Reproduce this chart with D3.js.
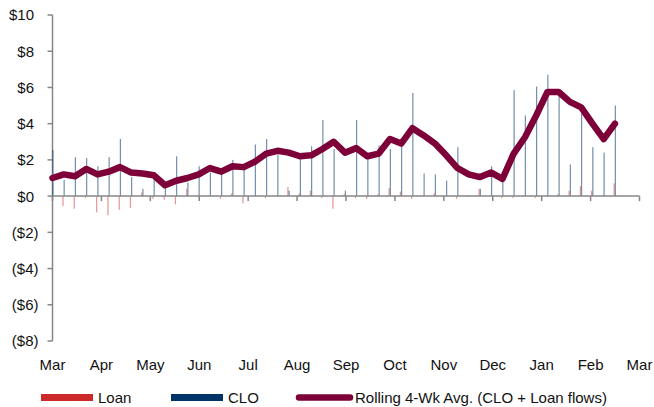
<!DOCTYPE html>
<meta charset="utf-8">

<script src="https://d3js.org/d3.v7.min.js"></script>

<style>
  body { margin: 0; background: #fff; }
  text { font-family: Arial, "Liberation Sans", sans-serif; font-size: 15px; fill: #111; }
</style>

<div id="flows_chart"></div>

<script>

var width = 654,
  height = 407,
  axisColor = "#868686",
  loanColor = "#cc2a2a",
  cloColor = "#003366",
  avgColor = "#7d0038";

var monthLabels = ["Mar", "Apr", "May", "Jun", "Jul", "Aug", "Sep", "Oct", "Nov", "Dec", "Jan", "Feb", "Mar"];
var yTicks = [10, 8, 6, 4, 2, 0, -2, -4, -6, -8];

// weekly flows, $bn
var cloFlows = [2.55, 0.9, 2.15, 2.1, 1.65, 2.15, 3.15, 1.05, 0.4, 0.95,
  0.55, 2.2, 0.75, 1.65, 1.3, 1.25, 2.0, 1.45, 2.85, 3.15,
  2.3, 0.3, 2.15, 2.75, 4.2, 2.6, 0.3, 4.2, 2.1, 2.8,
  2.6, 2.8, 5.7, 1.25, 1.2, 0.85, 2.7, 0.0, 0.4, 1.65,
  0.9, 5.85, 4.45, 6.05, 6.7, 5.7, 1.75, 4.55, 2.7, 2.4, 5.0];

var loanFlows = [0.0, -0.55, -0.7, -0.1, -0.9, -1.05, -0.75, -0.65, 0.2, -0.15,
  -0.2, -0.45, 0.4, 0.0, 0.0, -0.15, 0.15, -0.4, 0.0, -0.1,
  0.0, 0.5, 0.15, 0.3, -0.1, -0.7, 0.1, -0.1, -0.15, 0.1,
  0.45, 0.25, -0.15, 0.0, 0.15, 0.0, -0.15, 0.05, 0.4, 0.0,
  -0.1, -0.1, 0.0, -0.1, 0.05, 0.1, 0.3, 0.55, 0.3, 0.05, 0.7];

var rollingAvg = [1.0, 1.2, 1.1, 1.5, 1.2, 1.35, 1.6, 1.3, 1.25, 1.15,
  0.6, 0.85, 1.0, 1.2, 1.55, 1.35, 1.65, 1.6, 1.9, 2.35,
  2.5, 2.4, 2.2, 2.25, 2.6, 3.0, 2.4, 2.65, 2.2, 2.35,
  3.15, 2.9, 3.75, 3.35, 2.9, 2.25, 1.55, 1.2, 1.05, 1.3,
  0.95, 2.35, 3.25, 4.45, 5.75, 5.75, 5.2, 4.9, 4.0, 3.15, 4.0];

var svg = d3.select("#flows_chart")
  .append("svg")
    .attr("width", width)
    .attr("height", height);

// x in months since start, one week = 7/30.44 of a month
var x = d3.scaleLinear().domain([0, 12]).range([52.5, 639.5]);
var y = d3.scaleLinear().domain([-8, 10]).range([341, 15]);

function wx(i) { return x(i * 7 / 30.44); }

// y axis
svg.append("line")
  .attr("x1", x(0)).attr("x2", x(0))
  .attr("y1", y(10)).attr("y2", y(-8))
  .attr("stroke", axisColor)
  .attr("stroke-width", 1.5);

svg.selectAll("ytick")
  .data(yTicks)
  .enter()
  .append("line")
    .attr("x1", x(0) - 5).attr("x2", x(0))
    .attr("y1", function(d){ return y(d) }).attr("y2", function(d){ return y(d) })
    .attr("stroke", axisColor)
    .attr("stroke-width", 1.5);

svg.selectAll("ylabel")
  .data(yTicks)
  .enter()
  .append("text")
    .attr("x", function(d){ return d < 0 ? 38.5 : 34 })
    .attr("y", function(d){ return y(d) })
    .attr("dy", "0.36em")
    .style("text-anchor", "end")
    .text(function(d){ return d < 0 ? "($" + (-d) + ")" : "$" + d });

// bars
svg.selectAll("loanbar")
  .data(loanFlows)
  .enter()
  .append("rect")
    .attr("x", function(d, i){ return wx(i) - 1.4 })
    .attr("y", function(d){ return y(Math.max(0, d)) })
    .attr("width", 1.2)
    .attr("height", function(d){ return Math.abs(y(d) - y(0)) })
    .style("fill", loanColor)
    .style("opacity", 0.5);

svg.selectAll("clobar")
  .data(cloFlows)
  .enter()
  .append("rect")
    .attr("x", function(d, i){ return wx(i) - 0.2 })
    .attr("y", function(d){ return y(Math.max(0, d)) })
    .attr("width", 1.2)
    .attr("height", function(d){ return Math.abs(y(d) - y(0)) })
    .style("fill", cloColor)
    .style("opacity", 0.55);

// x axis on zero line, labels at bottom
svg.append("line")
  .attr("x1", x(0)).attr("x2", x(12))
  .attr("y1", y(0)).attr("y2", y(0))
  .attr("stroke", axisColor)
  .attr("stroke-width", 1.5);

svg.selectAll("xtick")
  .data(monthLabels)
  .enter()
  .append("line")
    .attr("x1", function(d, i){ return x(i) }).attr("x2", function(d, i){ return x(i) })
    .attr("y1", y(0)).attr("y2", y(0) + 5)
    .attr("stroke", axisColor)
    .attr("stroke-width", 1.5);

svg.selectAll("xlabel")
  .data(monthLabels)
  .enter()
  .append("text")
    .attr("x", function(d, i){ return x(i) })
    .attr("y", 370)
    .style("text-anchor", "middle")
    .text(function(d){ return d });

// rolling average line
var line = d3.line()
  .x(function(d, i){ return wx(i) })
  .y(function(d){ return y(d) });

svg.append("path")
  .datum(rollingAvg)
  .attr("d", line)
  .style("fill", "none")
  .attr("stroke", avgColor)
  .attr("stroke-width", 6.5)
  .attr("stroke-linejoin", "round")
  .attr("stroke-linecap", "round");

// legend
var legend = svg.append("g");

legend.append("rect")
  .attr("x", 41).attr("y", 394)
  .attr("width", 52).attr("height", 7)
  .style("fill", loanColor);
legend.append("text").attr("x", 98).attr("y", 403).text("Loan");

legend.append("rect")
  .attr("x", 171).attr("y", 394)
  .attr("width", 52).attr("height", 7)
  .style("fill", cloColor);
legend.append("text").attr("x", 228).attr("y", 403).text("CLO");

legend.append("line")
  .attr("x1", 299).attr("x2", 350)
  .attr("y1", 397.5).attr("y2", 397.5)
  .attr("stroke", avgColor)
  .attr("stroke-width", 6.5)
  .attr("stroke-linecap", "round");
legend.append("text").attr("x", 355).attr("y", 403).text("Rolling 4-Wk Avg. (CLO + Loan flows)");

</script>
